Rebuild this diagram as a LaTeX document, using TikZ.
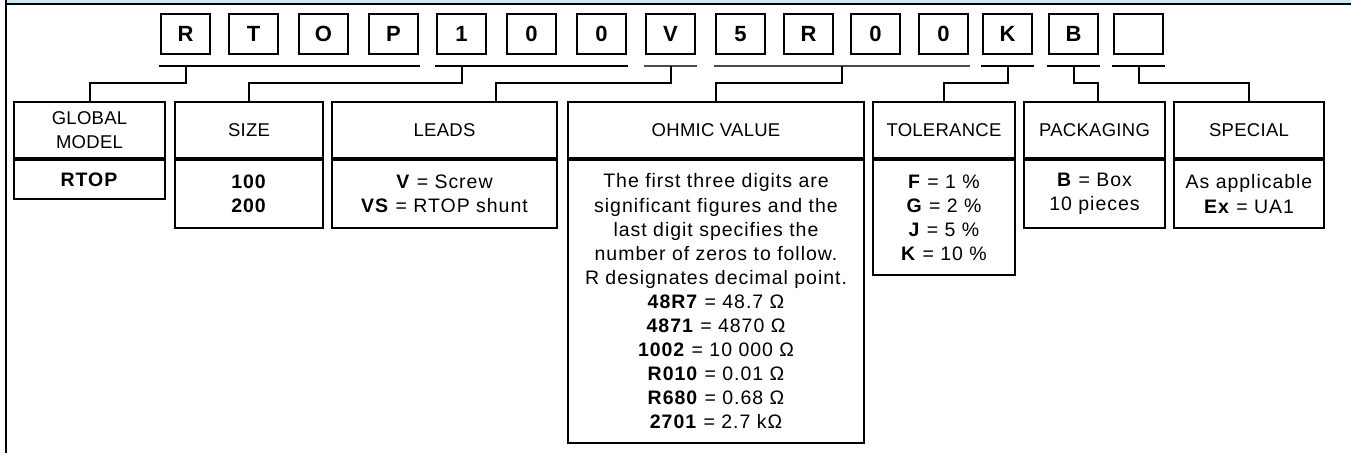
\documentclass[tikz,border=0pt]{standalone}
\usepackage{fontspec}
\setmainfont{Liberation Sans}
\newfontfamily\bodyfont[LetterSpace=5]{Liberation Sans}
\newfontfamily\hdrfont[LetterSpace=1.5]{Liberation Sans}
\usetikzlibrary{calc}
\definecolor{band}{RGB}{207,230,243}
\begin{document}
\begin{tikzpicture}[x=1pt,y=-1pt,line width=2pt,
  letterbox/.style={draw,minimum width=49pt,minimum height=40pt,inner sep=0pt,font=\fontsize{22}{24}\selectfont\bfseries},
  hdr/.style={draw,inner sep=0pt,align=center,minimum height=56pt,font=\hdrfont\fontsize{18.5}{23.7}\selectfont},
  bodybox/.style={draw,inner sep=0pt,align=center,anchor=north,font=\bodyfont\fontsize{19.5}{24.1}\selectfont},
  uline/.style={line width=2pt,line cap=rect},
  ulinegray/.style={line width=1.6pt,draw=black!70,line cap=rect},
  conn/.style={line width=2pt}]
\useasboundingbox (0,0) rectangle (1351,453);
% frame
\fill[band] (7,0) rectangle (1351,3);
\draw (6,4) -- (1351,4);
\draw (6,0) -- (6,453);
% letter boxes
\foreach \i/\L/\c in {1/160/R,2/228/T,3/298/O,4/368/P,5/436/1,6/506/0,7/576/0,8/645/V,9/715/5,10/783/R,11/850/0,12/918/0,13/982/K,14/1048/B,15/1113/{}}
  \node[letterbox] (l\i) at (\L+25.5,34) {\c};
% underlines
\coordinate (ul) at (0,66);
\draw[uline] (l1.west |- ul) -- (l4.east |- ul);
\draw[uline] (l5.west |- ul) -- (l7.east |- ul);
\draw[ulinegray] (l8.west |- ul) -- (l8.east |- ul);
\draw[ulinegray] (l9.west |- ul) -- (l12.east |- ul);
\draw[uline] (l13.west |- ul) -- (l13.east |- ul);
\draw[uline] (l14.west |- ul) -- (l14.east |- ul);
\draw[uline] (l15.west |- ul) -- (l15.east |- ul);
% headers
\node[hdr,minimum width=151pt] (gm) at (89.5,130) {GLOBAL\\MODEL};
\node[hdr,minimum width=148pt] (sz) at (249,130) {SIZE};
\node[hdr,minimum width=225pt] (ld) at (444.5,130) {LEADS};
\node[hdr,minimum width=296pt] (ov) at (716,130) {OHMIC VALUE};
\node[hdr,minimum width=142pt] (tl) at (944,130) {TOLERANCE};
\node[hdr,minimum width=141pt] (pk) at (1094.5,130) {PACKAGING};
\node[hdr,minimum width=150pt] (sp) at (1249,130) {SPECIAL};
% bodies
\node[bodybox,minimum width=151pt,minimum height=39pt] (gmb) at (gm.south) {\textbf{RTOP}};
\node[bodybox,minimum width=148pt,minimum height=68pt] (szb) at (sz.south) {\textbf{100}\\\textbf{200}};
\node[bodybox,minimum width=225pt,minimum height=68pt] (ldb) at (ld.south) {\textbf{V} = Screw\\\textbf{VS} = RTOP shunt};
\node[bodybox,minimum width=296pt,minimum height=283pt] (ovb) at (ov.south) {The first three digits are\\significant figures and the\\last digit specifies the\\number of zeros to follow.\\R designates decimal point.\\\textbf{48R7} = 48.7 Ω\\\textbf{4871} = 4870 Ω\\\textbf{1002} = 10 000 Ω\\\textbf{R010} = 0.01 Ω\\\textbf{R680} = 0.68 Ω\\\textbf{2701} = 2.7 kΩ};
\node[bodybox,minimum width=142pt,minimum height=115pt] (tlb) at (tl.south) {\textbf{F} = 1 \%\\\textbf{G} = 2 \%\\\textbf{J} = 5 \%\\\textbf{K} = 10 \%};
\node[bodybox,minimum width=141pt,minimum height=68pt] (pkb) at (pk.south) {\textbf{B} = Box\\10 pieces};
\node[bodybox,minimum width=150pt,minimum height=68pt] (spb) at (sp.south) {As applicable\\\textbf{Ex} = UA1};
% connectors
\coordinate (mid) at ($(l10)!0.5!(l11)$);
\coordinate (ldin) at ([xshift=51.5pt]ld.north);
\coordinate (pkin) at ([xshift=3.5pt]pk.north);
\draw[conn] (l1 |- ul) -- ++(0,17) -| (gm.north);
\draw[conn] (l5 |- ul) -- ++(0,17) -| (sz.north);
\draw[conn] (l8 |- ul) -- ++(0,17) -| (ldin);
\draw[conn] (mid |- ul) -- ++(0,17) -| (ov.north);
\draw[conn] (l13 |- ul) -- ++(0,17) -| (tl.north);
\draw[conn] (l14 |- ul) -- ++(0,17) -| (pkin);
\draw[conn] (l15 |- ul) -- ++(0,17) -| (sp.north);
\end{tikzpicture}
\end{document}
